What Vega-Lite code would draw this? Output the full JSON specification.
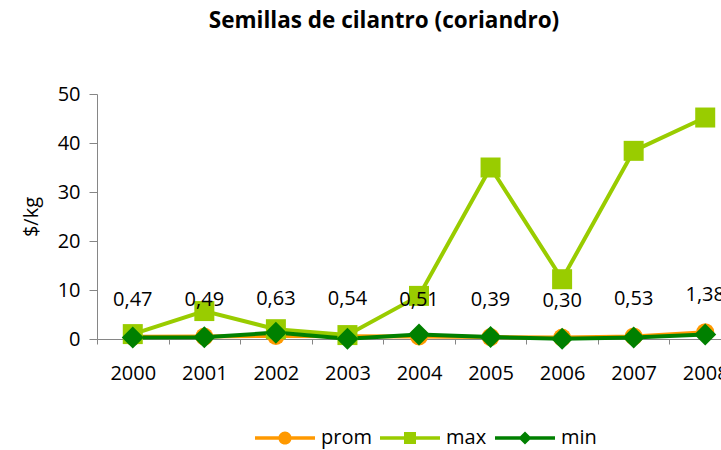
{
  "$schema": "https://vega.github.io/schema/vega-lite/v6.json",
  "autosize": {"type": "none"},
  "padding": {"left": 97, "top": 94, "right": 0, "bottom": 111},
  "width": 644,
  "height": 245,
  "background": "white",
  "config": {
    "locale": {"number": {"decimal": ",", "thousands": ".", "grouping": [3], "currency": ["$", ""]}},
    "font": "Open Sans",
    "view": {"stroke": null}
  },
  "title": {
    "text": "Semillas de cilantro (coriandro)",
    "fontSize": 22.5,
    "fontWeight": "bold",
    "font": "Open Sans",
    "color": "#000000",
    "anchor": "middle",
    "frame": "group",
    "dx": -35,
    "offset": 52
  },
  "data": {
    "values": [
      {"year": "2000", "serie": "prom", "value": 0.47},
      {"year": "2001", "serie": "prom", "value": 0.49},
      {"year": "2002", "serie": "prom", "value": 0.63},
      {"year": "2003", "serie": "prom", "value": 0.54},
      {"year": "2004", "serie": "prom", "value": 0.51},
      {"year": "2005", "serie": "prom", "value": 0.39},
      {"year": "2006", "serie": "prom", "value": 0.30},
      {"year": "2007", "serie": "prom", "value": 0.53},
      {"year": "2008", "serie": "prom", "value": 1.38},
      {"year": "2000", "serie": "max", "value": 1.0},
      {"year": "2001", "serie": "max", "value": 5.7},
      {"year": "2002", "serie": "max", "value": 2.0},
      {"year": "2003", "serie": "max", "value": 0.8},
      {"year": "2004", "serie": "max", "value": 8.8},
      {"year": "2005", "serie": "max", "value": 35.0},
      {"year": "2006", "serie": "max", "value": 12.2},
      {"year": "2007", "serie": "max", "value": 38.4},
      {"year": "2008", "serie": "max", "value": 45.2},
      {"year": "2000", "serie": "min", "value": 0.3},
      {"year": "2001", "serie": "min", "value": 0.35},
      {"year": "2002", "serie": "min", "value": 1.3},
      {"year": "2003", "serie": "min", "value": 0.05},
      {"year": "2004", "serie": "min", "value": 0.9},
      {"year": "2005", "serie": "min", "value": 0.4},
      {"year": "2006", "serie": "min", "value": 0.05},
      {"year": "2007", "serie": "min", "value": 0.3},
      {"year": "2008", "serie": "min", "value": 0.9}
    ]
  },
  "encoding": {
    "x": {
      "field": "year",
      "type": "ordinal",
      "scale": {"type": "band", "paddingInner": 0, "paddingOuter": 0},
      "axis": {
        "title": null,
        "labelAngle": 0,
        "labelFontSize": 20,
        "labelFont": "Open Sans",
        "labelColor": "#000000",
        "labelPadding": 19,
        "tickBand": "extent",
        "tickSize": 5,
        "tickColor": "#868686",
        "domainColor": "#868686",
        "grid": false
      }
    },
    "y": {"field": "value", "type": "quantitative"}
  },
  "layer": [
    {
      "mark": {"type": "line", "strokeWidth": 4},
      "encoding": {
        "y": {
          "field": "value",
          "type": "quantitative",
          "scale": {"domain": [0, 50], "nice": false},
          "axis": {
            "title": "$/kg",
            "titleFontSize": 20,
            "titleFont": "Open Sans",
            "titleFontWeight": "normal",
            "titleColor": "#000000",
            "titlePadding": 16,
            "values": [0, 10, 20, 30, 40, 50],
            "labelFontSize": 20,
            "labelFont": "Open Sans",
            "labelColor": "#000000",
            "labelPadding": 9,
            "tickSize": 8,
            "tickColor": "#868686",
            "domainColor": "#868686",
            "grid": false
          }
        },
        "color": {
          "field": "serie",
          "type": "nominal",
          "scale": {"domain": ["prom", "max", "min"], "range": ["#FF9900", "#99CC00", "#008000"]},
          "legend": {
            "title": null,
            "orient": "none",
            "legendX": 158,
            "legendY": 314,
            "direction": "horizontal",
            "padding": 0,
            "symbolSize": 3600,
            "symbolStrokeWidth": 0,
            "symbolOpacity": 1,
            "labelFontSize": 20,
            "labelFont": "Open Sans",
            "labelColor": "#000000",
            "labelOffset": 6,
            "columnPadding": 8,
            "encode": {
              "symbols": {
                "update": {
                  "shape": {"signal": "datum.value === 'prom' ? 'M-1,-0.055H1V0.055H-1ZM0.22,0A0.22,0.22,0,1,1,-0.22,0A0.22,0.22,0,1,1,0.22,0Z' : datum.value === 'max' ? 'M-1,-0.055H1V0.055H-1ZM-0.2,-0.2H0.2V0.2H-0.2Z' : 'M-1,-0.055H1V0.055H-1ZM-0.22,0L0,-0.22L0.22,0L0,0.22Z'"},
                  "fill": {"scale": "color", "field": "value"},
                  "strokeWidth": {"value": 0},
                  "opacity": {"value": 1}
                }
              }
            }
          }
        }
      }
    },
    {
      "transform": [{"filter": "datum.serie === 'prom'"}],
      "mark": {"type": "point", "filled": true, "opacity": 1, "shape": "circle", "size": 324},
      "encoding": {"color": {"field": "serie", "type": "nominal"}}
    },
    {
      "transform": [{"filter": "datum.serie === 'max'"}],
      "mark": {"type": "point", "filled": true, "opacity": 1, "shape": "square", "size": 400},
      "encoding": {"color": {"field": "serie", "type": "nominal"}}
    },
    {
      "transform": [{"filter": "datum.serie === 'min'"}],
      "mark": {"type": "point", "filled": true, "opacity": 1, "shape": "diamond", "size": 484},
      "encoding": {"color": {"field": "serie", "type": "nominal"}}
    },
    {
      "transform": [{"filter": "datum.serie === 'prom'"}],
      "mark": {"type": "text", "dy": -37, "fontSize": 20, "font": "Open Sans", "color": "#000000", "baseline": "middle"},
      "encoding": {
        "text": {"field": "value", "type": "quantitative", "format": ".2f"}
      }
    }
  ]
}
